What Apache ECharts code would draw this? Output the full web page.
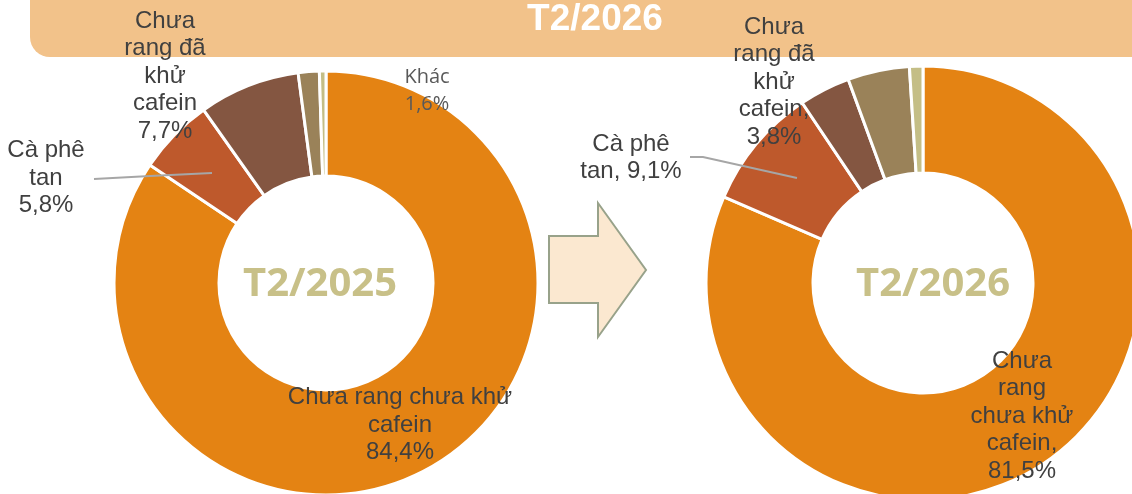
<!DOCTYPE html>
<html>
<head>
<meta charset="utf-8">
<script src="https://cdn.jsdelivr.net/npm/echarts@6/dist/echarts.min.js"></script>
<style>
  html, body { margin: 0; padding: 0; background: #fff; }
  #chart { width: 1132px; height: 494px; }
</style>
</head>
<body>
<div id="chart"></div>
<script>
// tên các nhóm hàng
const categories = ['Chưa rang chưa khử cafein', 'Cà phê tan', 'Chưa rang đã khử cafein', 'Khác', 'Còn lại']
// tỷ trọng (%)
const values2025 = [84.4, 5.8, 7.7, 1.6, 0.5]
const values2026 = [81.5, 9.1, 3.8, 4.6, 1.0]
// nhãn (đã ngắt dòng như hình gốc)
const labels2025 = ['Chưa rang chưa khử\ncafein\n', 'Cà phê\ntan\n', 'Chưa\nrang đã\nkhử\ncafein\n', 'Khác\n', '']
const labels2026 = ['Chưa\nrang\nchưa khử\ncafein,\n', 'Cà phê\ntan, ', 'Chưa\nrang đã\nkhử\ncafein,\n', '', '']
const periods = ['T2/2025', 'T2/2026']

const colors = ['#E48313', '#BE592C', '#845641', '#9A8259', '#C4BE86']

function fmt(v) {
	return v.toFixed(1).replace('.', ',') + '%'
}

// vị trí nhãn của từng lát
const pos2025 = [[400, 425], [46, 178], [165, 76], [427, 91], null]
const pos2026 = [[1022, 416], [631, 158], [774, 82], null, null]

function buildData(values, labels) {
	return values.map(function (v, i) {
		return {
			name: categories[i],
			value: v,
			itemStyle: { color: colors[i] },
			label: {
				show: labels[i] !== '',
				formatter: labels[i] + fmt(v),
			},
		}
	})
}

function pieSeries(center, radius, values, labels, pos) {
	return {
		type: 'pie',
		center: center,
		radius: radius,
		startAngle: 90,
		clockwise: true,
		avoidLabelOverlap: false,
		animation: false,
		itemStyle: { borderColor: '#fff', borderWidth: 3 },
		label: {
			position: 'outside',
			color: '#404040',
			fontFamily: 'Liberation Sans',
			fontSize: 24,
			lineHeight: 27.5,
			align: 'center',
		},
		labelLine: { show: false },
		labelLayout: function (params) {
			const p = pos[params.dataIndex]
			if (!p) return {}
			return { x: p[0], y: p[1], align: 'center', verticalAlign: 'middle' }
		},
		emphasis: { disabled: true },
		data: buildData(values, labels),
	}
}

// đường dẫn nhãn "Cà phê tan" (vẽ đè lên lát)
function leader(points) {
	return {
		type: 'polyline',
		z: 20,
		shape: { points: points },
		style: { stroke: '#A6A6A6', lineWidth: 1.8, fill: null },
	}
}

const myChart = echarts.init(document.getElementById('chart'))
const option = {
	animation: false,
	graphic: [
		{
			type: 'rect',
			z: -10,
			shape: { x: 30, y: 0, width: 1102, height: 57, r: [0, 0, 0, 20] },
			style: { fill: '#F2C28A' },
		},
		{
			type: 'text',
			z: 10,
			x: 595,
			y: 20,
			style: {
				text: periods[1],
				fill: '#fff',
				font: 'bold 37px "Liberation Sans"',
				align: 'center',
				verticalAlign: 'middle',
			},
		},
		{
			type: 'polygon',
			shape: {
				points: [[549, 236], [598, 236], [598, 203], [646, 270], [598, 337], [598, 303], [549, 303]],
			},
			style: { fill: '#FBE8D0', stroke: '#98A28A', lineWidth: 2 },
		},
		{
			type: 'text',
			z: 10,
			x: 320,
			y: 285,
			style: {
				text: periods[0],
				fill: '#C8C088',
				font: 'bold 40px "Open Sans"',
				align: 'center',
				verticalAlign: 'middle',
			},
		},
		{
			type: 'text',
			z: 10,
			x: 933,
			y: 285,
			style: {
				text: periods[1],
				fill: '#C8C088',
				font: 'bold 40px "Open Sans"',
				align: 'center',
				verticalAlign: 'middle',
			},
		},
		leader([[94, 179], [150, 176], [212, 173]]),
		leader([[690, 157], [703, 157], [797, 178]]),
	],
	series: [
		pieSeries([326, 283], [107, 212], values2025, labels2025, pos2025),
		pieSeries([923, 283], [110, 217], values2026, labels2026, pos2026),
	],
}
// nhãn "Khác" dùng phông khác
option.series[0].data[3].label.fontFamily = 'Open Sans'
option.series[0].data[3].label.fontSize = 20
option.series[0].data[3].label.lineHeight = 27
option.series[0].data[3].label.color = '#595959'
myChart.setOption(option)
</script>
</body>
</html>
